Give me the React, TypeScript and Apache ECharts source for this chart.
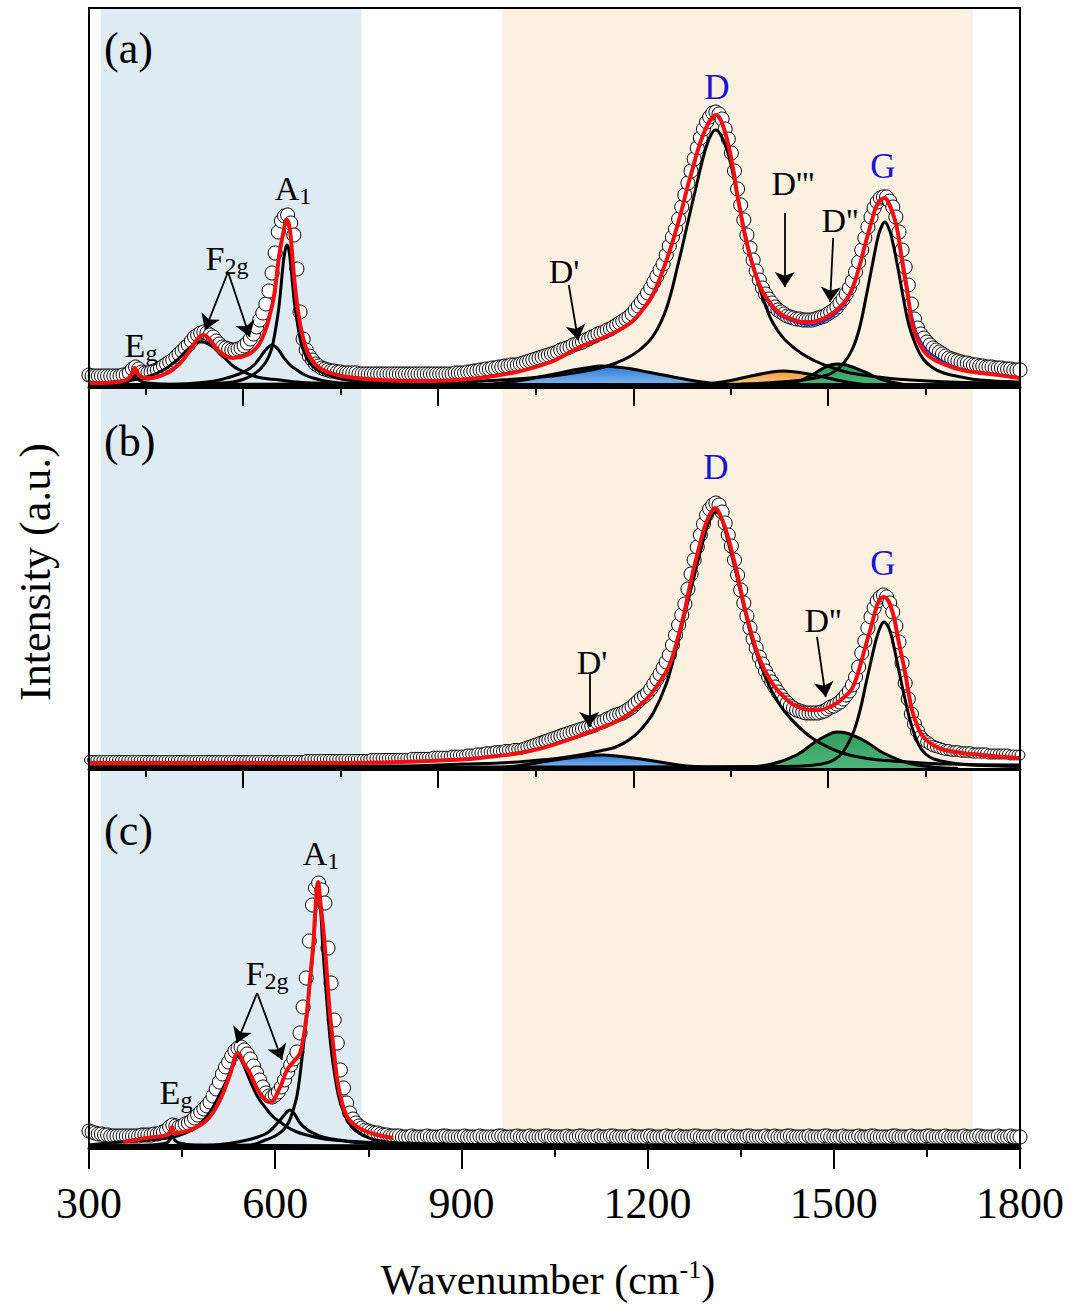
import React, { useEffect, useRef } from "react";
import * as echarts from "echarts";

// ---------- sampling grid of the measured spectra (cm-1) ----------
const specStart = 300;
const specStep = 5;
const specCount = 301;
const wavenumbers: number[] = Array.from({ length: specCount }, (_, i) => specStart + specStep * i);

// ---------- measured spectra (a.u.), one value per grid point ----------
const measuredA = [
  12,11,11,11,11,11,11,11,11,11,11,12,12,14,18,20,18,15,14,14,
  15,16,17,19,21,23,25,27,30,33,36,39,42,46,50,52,54,55,54,52,
  50,46,43,40,39,38,37,37,38,39,41,44,48,53,60,67,74,83,96,114,
  134,155,166,171,172,164,152,118,75,48,37,31,27,23,21,19,18,17,16,16,
  15,15,14,14,14,14,14,13,13,13,13,13,13,13,13,13,13,13,13,13,
  13,13,13,13,13,13,13,13,13,13,13,13,13,13,13,13,13,13,14,14,
  14,14,15,15,16,16,17,17,18,18,19,19,20,20,21,21,22,22,22,23,
  24,25,26,27,28,29,30,31,32,33,34,35,37,38,39,40,42,43,44,45,
  47,48,50,51,53,54,55,57,58,60,62,64,66,68,70,73,77,81,85,89,
  94,99,105,111,117,123,132,141,150,158,168,180,192,204,216,228,239,249,258,265,
  270,274,275,273,268,258,248,234,216,198,182,167,152,139,127,116,107,99,93,88,
  84,80,77,75,73,71,70,69,68,68,67,67,67,67,68,69,70,71,73,75,
  77,80,84,88,93,99,106,115,125,137,149,160,170,179,185,189,190,190,186,180,
  170,155,137,120,102,83,68,59,53,49,45,42,39,37,35,33,31,29,28,27,
  26,25,24,24,23,22,22,21,21,20,20,20,19,19,19,18,18,18,17,17,
  17,
];
const measuredB = [
  9,9,9,9,9,9,9,9,9,9,9,9,9,9,9,9,9,9,9,9,
  9,9,9,9,9,9,9,9,9,9,9,9,9,9,9,9,9,9,9,9,
  9,9,9,9,9,9,9,9,9,9,9,9,9,9,9,9,9,9,9,9,
  9,9,9,9,9,9,9,9,9,9,10,10,10,10,10,10,10,10,10,10,
  10,10,10,10,10,10,10,10,10,10,10,11,11,11,11,11,11,11,11,11,
  11,11,11,11,12,12,12,12,12,12,12,13,13,13,13,13,13,14,14,14,
  14,14,15,15,15,16,16,16,17,17,17,18,18,18,19,19,19,20,20,20,
  21,22,23,24,25,26,27,28,29,30,31,32,33,34,35,36,37,38,39,40,
  41,42,43,44,46,47,48,50,51,53,54,55,56,58,60,62,65,68,71,73,
  76,80,85,90,95,101,107,114,124,134,144,154,165,180,195,209,222,234,245,254,
  260,264,266,264,257,246,234,223,209,194,179,166,153,141,130,121,112,105,98,92,
  87,82,77,73,69,66,63,61,59,58,57,56,56,56,56,56,57,58,60,62,
  63,65,67,70,74,78,84,92,102,116,128,141,152,161,168,172,174,172,166,157,
  143,127,106,86,70,55,45,38,32,29,27,25,23,22,21,20,19,19,18,18,
  18,17,17,17,17,16,16,16,16,16,15,15,15,15,15,15,15,14,14,14,
  14,
];
const measuredC = [
  17,16,15,14,14,13,13,12,12,12,12,12,12,12,12,12,12,13,13,13,
  13,14,14,15,16,18,21,23,22,21,22,24,25,27,30,33,36,39,42,46,
  52,59,66,74,81,86,92,97,100,101,98,94,89,82,75,68,61,55,52,51,
  53,56,61,68,76,83,89,96,115,141,170,207,243,260,265,258,245,200,165,128,
  105,78,60,45,35,29,25,22,20,18,17,16,15,15,14,13,13,12,12,12,
  12,11,11,11,12,11,11,11,11,12,11,11,11,11,12,12,11,11,11,11,
  11,12,11,11,11,11,12,11,11,11,11,11,12,12,11,11,11,11,12,11,
  11,11,12,11,11,11,11,12,12,11,11,11,11,11,12,11,11,11,12,12,
  11,11,11,11,12,11,11,11,12,12,11,11,11,11,11,12,11,11,11,11,
  12,12,11,11,11,11,12,11,11,11,12,11,11,11,11,12,12,11,11,11,
  11,11,12,11,11,11,11,12,11,11,11,11,12,12,11,11,11,11,12,11,
  11,12,11,11,11,12,12,11,11,11,11,11,12,11,11,11,11,12,12,11,
  11,11,11,12,11,11,11,11,12,11,11,11,12,12,11,11,11,11,11,12,
  12,11,11,11,11,12,11,11,11,11,12,12,11,11,11,11,12,11,11,11,
  11,11,12,11,11,11,12,12,11,11,11,11,11,12,11,11,11,12,11,11,
  11,
];

// ---------- fitted envelopes [wavenumber, intensity] ----------
const fitA: [number, number][] = [
  [300,4],[340,4.5],[360,7],[368,12],[374,19],[378,14],[384,10],[398,9],[426,14],[447,24],
  [463,37],[476,49],[484,52],[495,47],[511,35],[532,29],[555,32],[571,40],[580,50],[587,62],
  [592,74],[597,87],[601,104],[604,120],[608,138],[613,154],[616,163],[619,167],[622,163],[625,150],
  [629,120],[632,100],[635,84],[639,67],[643,54],[649,40],[656,30],[666,22],[677,17],[695,13],
  [716,10],[769,7],[850,6],[930,9],[988,15],[1044,25],[1091,40],[1131,50],[1172,64],[1200,84],
  [1212,97],[1223,114],[1235,135],[1246,157],[1255,177],[1263,197],[1272,217],[1281,237],[1290,253],[1299,265],
  [1305,270],[1310,272],[1315,270],[1321,262],[1327,250],[1333,234],[1339,214],[1344,194],[1350,174],[1355,157],
  [1361,141],[1367,127],[1375,111],[1384,97],[1395,86],[1407,77],[1420,71],[1436,67],[1450,65],[1462,65],
  [1478,67],[1494,72],[1510,80],[1523,90],[1532,102],[1541,120],[1549,139],[1557,157],[1563,170],[1568,180],
  [1575,187],[1582,189],[1589,183],[1597,170],[1603,155],[1608,134],[1613,115],[1618,97],[1622,80],[1626,64],
  [1634,49],[1644,37],[1657,29],[1673,24],[1707,17],[1765,12],[1800,9],
];
// cumulative curve drawn in blue under the red fit (visible around D''/G in panel a)
const sumA: [number, number][] = [
  [1384,95],[1407,74],[1436,65],[1460,62],[1494,69],[1523,87],[1541,117],[1557,155],[1568,178],[1582,189],
  [1597,173],[1608,140],[1618,104],[1626,72],[1644,42],[1673,27],[1707,18],[1765,12],
];
const fitB: [number, number][] = [
  [300,6],[500,6],[700,6],[800,7],[880,9],[930,11],[1017,19],[1102,36],[1160,51],[1200,71],
  [1217,85],[1234,102],[1247,127],[1259,156],[1267,180],[1275,202],[1284,224],[1292,242],[1300,254],[1309,261],
  [1317,254],[1326,239],[1333,224],[1339,209],[1345,194],[1350,179],[1358,157],[1367,136],[1378,114],[1391,96],
  [1405,82],[1420,72],[1433,65],[1447,61],[1462,59],[1476,59],[1490,61],[1505,66],[1517,72],[1528,79],
  [1537,92],[1545,109],[1553,127],[1560,142],[1566,156],[1571,166],[1576,171],[1581,172],[1587,169],[1592,162],
  [1598,149],[1603,132],[1609,114],[1615,96],[1620,78],[1626,59],[1634,44],[1644,32],[1660,24],[1678,19],
  [1736,14],[1800,11],
];
const fitC: [number, number][] = [
  [355,6],[393,10],[426,13],[431,17],[434,21],[438,14],[442,15],[463,18],[490,28],[511,48],
  [527,73],[540,95],[551,83],[559,75],[575,55],[592,46],[608,61],[619,78],[632,88],[640,95],
  [646,112],[651,135],[656,168],[661,201],[665,240],[669,266],[673,245],[677,222],[680,201],[684,168],
  [688,135],[694,100],[700,68],[707,47],[716,31],[728,23],[741,18],[765,13],[790,10],
];

// ---------- fitted component bands [wavenumber, intensity] ----------
// panel (a)
const egA: [number, number][] = [[300,2],[330,3],[355,4],[365,6],[370,9],[374,12],[378,9],[383,6],[393,4],[420,3],[500,2.5],[700,2],[1100,2],[1800,2]];
const f2g1A: [number, number][] = [[300,3],[339,5],[370,7],[393,10],[410,14],[425,19],[442,27],[458,37],[468,42],[476,45],[484,45],[492,43],[500,40],[511,33],[522,27],[532,21],[543,17],[557,13],[571,10],[590,8],[608,7],[635,5],[661,4],[740,3],[900,2.5],[1300,2],[1800,2]];
const f2g2A: [number, number][] = [[300,2],[400,2.5],[450,3],[490,5],[510,7],[527,10],[542,13],[555,17],[566,22],[575,29],[583,36],[589,40],[595,42],[601,40],[607,36],[613,30],[624,22],[635,17],[648,12],[661,9],[680,6],[704,4],[760,3],[900,2.5],[1300,2],[1800,2]];
const a1A: [number, number][] = [[300,2],[400,2.5],[480,3],[532,5],[550,8],[564,12],[576,18],[584,24],[590,31],[595,40],[599,52],[603,67],[606,80],[609,98],[612,118],[615,133],[619,142],[622,137],[625,122],[628,103],[631,84],[635,67],[639,52],[643,41],[650,30],[656,24],[666,18],[677,14],[695,10],[716,7],[769,4],[850,3],[1000,2.5],[1400,2],[1800,2]];
const dA: [number, number][] = [[300,2],[500,2.5],[650,3],[800,3.5],[900,5],[962,7],[1010,9],[1059,12],[1100,16],[1130,20],[1149,24],[1170,30],[1189,38],[1210,52],[1230,78],[1250,125],[1265,165],[1280,205],[1292,235],[1302,252],[1310,257],[1318,252],[1328,237],[1338,212],[1348,180],[1358,150],[1367,127],[1380,100],[1392,78],[1402,64],[1420,48],[1447,34],[1470,26],[1494,20],[1520,15],[1558,11],[1600,8],[1687,5],[1800,4]];
const gA: [number, number][] = [[300,2],[800,2.5],[1100,2.5],[1350,3],[1413,5],[1450,7],[1478,10],[1500,15],[1516,24],[1530,38],[1541,58],[1552,90],[1563,125],[1572,152],[1578,162],[1582,165],[1587,161],[1593,150],[1603,120],[1612,89],[1621,62],[1632,42],[1644,28],[1660,19],[1677,14],[1705,10],[1735,7],[1800,5]];
const d1A: [number, number][] = [[850,0.5],[900,1],[950,3],[1000,7],[1050,13],[1080,17],[1100,19],[1125,21],[1150,20],[1175,18],[1200,15],[1250,9],[1300,4],[1350,1.5],[1400,0.5]];
const d3A: [number, number][] = [[1220,0.5],[1270,2],[1320,5],[1360,10],[1400,15],[1420,16],[1450,14],[1490,9],[1530,4],[1570,1.5],[1620,0.3]];
const d2A: [number, number][] = [[1400,1],[1440,5],[1470,14],[1490,21],[1505,23],[1520,22],[1550,15],[1580,7],[1620,2],[1660,0.5]];
// panel (b)
const dB: [number, number][] = [[300,2],[500,2.5],[650,3],[800,3],[900,5],[962,6],[1010,8],[1059,11],[1100,15],[1130,19],[1149,22],[1170,29],[1190,40],[1210,57],[1230,85],[1245,118],[1258,150],[1270,180],[1282,210],[1292,234],[1302,252],[1310,257],[1318,252],[1329,229],[1339,205],[1349,179],[1360,150],[1372,122],[1391,90],[1410,67],[1431,50],[1465,31],[1505,18],[1540,12],[1574,9],[1620,7],[1680,5],[1800,4]];
const gB: [number, number][] = [[300,2],[900,2],[1400,2.5],[1450,3],[1480,5],[1500,9],[1515,17],[1531,36],[1542,58],[1552,86],[1560,108],[1568,129],[1575,142],[1581,147],[1587,143],[1592,135],[1597,122],[1606,95],[1615,69],[1625,44],[1637,24],[1648,15],[1661,10],[1690,6],[1720,4],[1800,2.5]];
const d1B: [number, number][] = [[900,0.5],[950,1],[1000,4],[1050,9],[1100,13],[1125,14],[1150,13],[1200,9],[1250,4],[1300,1.5],[1350,0.3]];
const d2B: [number, number][] = [[1350,1],[1400,5],[1440,14],[1470,27],[1490,34],[1505,37],[1520,36],[1550,28],[1580,16],[1620,6],[1660,2],[1700,0.5]];
// panel (c)
const egC: [number, number][] = [[300,2],[400,3],[425,5],[430,8],[434,12],[438,8],[445,5],[470,3],[600,2.5],[900,2],[1800,2]];
const f2g1C: [number, number][] = [[300,3],[366,7],[410,9],[435,11],[455,15],[474,21],[488,30],[500,41],[512,55],[522,68],[531,82],[540,92],[549,83],[559,68],[567,57],[575,48],[586,39],[597,31],[608,26],[619,21],[635,16],[651,13],[670,10],[693,8],[741,6],[800,4],[1000,3],[1800,2]];
const f2g2C: [number, number][] = [[300,2],[420,2.5],[500,3],[530,5],[555,8],[572,11],[587,15],[598,21],[608,28],[616,34],[624,38],[631,34],[640,25],[650,19],[661,15],[676,11],[693,9],[740,5],[900,3],[1800,2]];
const a1C: [number, number][] = [[300,2],[450,2.5],[560,3],[584,8],[600,12],[613,18],[622,26],[629,38],[635,52],[640,73],[645,100],[651,133],[656,166],[661,198],[665,235],[669,263],[673,240],[677,198],[681,165],[685,133],[690,100],[696,73],[702,52],[709,38],[718,26],[729,18],[745,12],[761,8],[800,5],[1000,3],[1800,2]];

// ---------- arrows [x1, y1, x2, y2] in data units ----------
const arrowsA = [[524,115,487,57],[524,115,559,50],[1073,102,1088,47],[1421,174,1421,100],[1499,149,1494,85]];
const arrowsB = [[1106,96,1106,42],[1473,132,1487,72]];
const arrowsC = [[571,155,538,105],[571,155,611,88]];

// ---------- shaded spectral regions (cm-1) ----------
const shadeOxide = [319, 739];
const shadeCarbon = [966, 1724];

// ---------- axis ticks ----------
const bottomTicks = { min: 300, max: 1800, interval: 300 };
const upperMajorTicks = [548, 862, 1177, 1491];
const upperMinorTicks = [391, 705, 1020, 1334, 1648];

const SERIF = '"Liberation Serif", "Times New Roman", Times, serif';

const grad = (top: string, bottom: string) =>
  new echarts.graphic.LinearGradient(0, 0, 0, 1, [
    { offset: 0, color: top },
    { offset: 1, color: bottom },
  ]);

export default function App() {
  const ref = useRef<HTMLDivElement>(null);

  useEffect(() => {
    if (!ref.current) return;
    const chart = echarts.init(ref.current, null, { renderer: "svg" });

    const grids = [
      { left: 89, right: 50, top: 8, height: 379 },
      { left: 89, right: 50, top: 387, height: 382 },
      { left: 89, right: 50, top: 769, height: 379 },
    ];
    const yMax = [379, 382, 379];

    const noSplit = { show: false };
    const xAxes: any[] = [];
    const mainX: number[] = [];
    [0, 1].forEach((g) => {
      mainX.push(xAxes.length);
      xAxes.push({
        type: "value", gridIndex: g, min: 300, max: 1800, position: "bottom", z: 10,
        axisLine: { show: true, onZero: false, lineStyle: { color: "#000", width: 3 } },
        axisTick: { show: true, customValues: upperMajorTicks, length: 19, lineStyle: { color: "#000", width: 2 } },
        axisLabel: { show: false }, splitLine: noSplit,
      });
      xAxes.push({
        type: "value", gridIndex: g, min: 300, max: 1800, position: "bottom", z: 10,
        axisLine: { show: false, onZero: false },
        axisTick: { show: true, customValues: upperMinorTicks, length: 8, lineStyle: { color: "#000", width: 2 } },
        axisLabel: { show: false }, splitLine: noSplit,
      });
    });
    xAxes.push({
      type: "value", gridIndex: 0, min: 300, max: 1800, position: "top", z: 10,
      axisLine: { show: true, onZero: false, lineStyle: { color: "#000", width: 2 } },
      axisTick: { show: false }, axisLabel: { show: false }, splitLine: noSplit,
    });
    mainX.push(xAxes.length);
    xAxes.push({
      type: "value", gridIndex: 2, min: bottomTicks.min, max: bottomTicks.max, interval: bottomTicks.interval,
      position: "bottom", z: 10,
      axisLine: { show: true, onZero: false, lineStyle: { color: "#000", width: 3 } },
      axisTick: { show: true, length: 21, lineStyle: { color: "#000", width: 2 } },
      minorTick: { show: true, splitNumber: 2, length: 9, lineStyle: { color: "#000", width: 2 } },
      axisLabel: { show: true, fontSize: 44, fontFamily: SERIF, color: "#000", margin: 33, formatter: (v: number) => String(v) },
      splitLine: noSplit, minorSplitLine: noSplit,
    });

    const yAxes: any[] = [];
    const mainY: number[] = [];
    [0, 1, 2].forEach((g) => {
      mainY.push(yAxes.length);
      ["left", "right"].forEach((pos) =>
        yAxes.push({
          type: "value", gridIndex: g, min: 0, max: yMax[g], position: pos, z: 10,
          axisLine: { show: true, onZero: false, lineStyle: { color: "#000", width: 2 } },
          axisTick: { show: false }, axisLabel: { show: false }, splitLine: noSplit,
        })
      );
    });

    const series: any[] = [];
    const base = (p: number) => ({ xAxisIndex: mainX[p], yAxisIndex: mainY[p], silent: true, animation: false });

    const shade = (p: number) => ({
      ...base(p), type: "line", data: [], z: 0,
      markArea: {
        silent: true,
        data: [
          [{ xAxis: shadeOxide[0], itemStyle: { color: "#deebf3" } }, { xAxis: shadeOxide[1] }],
          [{ xAxis: shadeCarbon[0], itemStyle: { color: "#fcf0e0" } }, { xAxis: shadeCarbon[1] }],
        ],
      },
    });
    const band = (p: number, pts: [number, number][], fill?: any) => ({
      ...base(p), type: "line", data: pts, smooth: 0.4, showSymbol: false, z: fill ? 2 : 4,
      lineStyle: { color: "#000", width: 3 },
      ...(fill ? { areaStyle: { color: fill, opacity: 1 } } : {}),
    });
    const measured = (p: number, vals: number[], size: any) => ({
      ...base(p), type: "scatter", z: 3, symbol: "circle", symbolSize: size, progressive: 0,
      data: wavenumbers.map((w, i) => [w, vals[i]]),
      itemStyle: { color: "#fff", borderColor: "#000", borderWidth: 1, opacity: 1 },
    });
    const fit = (p: number, pts: [number, number][]) => ({
      ...base(p), type: "line", data: pts, smooth: 0.4, showSymbol: false, z: 5,
      lineStyle: { color: "#f01010", width: 4 },
    });
    const arrows = (p: number, list: number[][]) => ({
      ...base(p), type: "line", data: [], z: 6,
      markLine: {
        silent: true, symbol: ["none", "arrow"], symbolSize: 15, animation: false,
        label: { show: false }, emphasis: { disabled: true },
        lineStyle: { color: "#000", width: 1.8, type: "solid" },
        data: list.map(([x1, y1, x2, y2]) => [{ coord: [x1, y1] }, { coord: [x2, y2] }]),
      },
    });

    const blueFill = grad("#2a78d6", "#8cc0f2");
    const orangeFill = grad("#f59a35", "#fcd39c");
    const greenFill = grad("#2f9c5c", "#4fb57c");

    // panel a
    series.push(shade(0));
    series.push(band(0, d1A, blueFill), band(0, d3A, orangeFill), band(0, d2A, greenFill));
    series.push(measured(0, measuredA, 14));
    series.push(band(0, egA), band(0, f2g1A), band(0, f2g2A), band(0, a1A), band(0, dA), band(0, gA));
    series.push({
      ...base(0), type: "line", data: sumA, smooth: 0.4, showSymbol: false, z: 4.5,
      lineStyle: { color: "#2222cc", width: 1.5 },
    });
    series.push(fit(0, fitA));
    series.push(arrows(0, arrowsA));
    // panel b (the flat baseline points are drawn smaller, as in the figure)
    series.push(shade(1));
    series.push(band(1, d1B, blueFill), band(1, d2B, greenFill));
    series.push(measured(1, measuredB, (v: number[]) => Math.min(14, 7 + v[1] * 0.2)));
    series.push(band(1, dB), band(1, gB));
    series.push(fit(1, fitB));
    series.push(arrows(1, arrowsB));
    // panel c
    series.push(shade(2));
    series.push(measured(2, measuredC, 14));
    series.push(band(2, egC), band(2, f2g1C), band(2, f2g2C), band(2, a1C));
    series.push(fit(2, fitC));
    series.push(arrows(2, arrowsC));

    const txt = (x: number, y: number, text: string, size: number, color = "#000", align = "center") => ({
      type: "text", x, y, z: 100, silent: true,
      style: { text, fill: color, font: `${size}px ${SERIF}`, align, verticalAlign: "middle" },
    });
    const subTxt = (x: number, y: number, main: string, sub: string, size = 34) => ({
      type: "text", x, y, z: 100, silent: true,
      style: {
        text: `{m|${main}}{s|${sub}}`, align: "center", verticalAlign: "middle",
        rich: {
          m: { fontSize: size, fontFamily: SERIF, lineHeight: size + 6, fill: "#000" },
          s: { fontSize: Math.round(size * 0.7), fontFamily: SERIF, lineHeight: 23, verticalAlign: "bottom", fill: "#000" },
        },
      },
    });
    const BLUE = "#1414d2";

    const graphic: any[] = [
      txt(104, 48, "(a)", 44, "#000", "left"),
      txt(104, 441, "(b)", 44, "#000", "left"),
      txt(104, 830, "(c)", 44, "#000", "left"),
      subTxt(293, 188, "A", "1"),
      subTxt(227, 258, "F", "2g"),
      subTxt(141, 345, "E", "g"),
      txt(717, 87, "D", 35, BLUE),
      txt(883, 166, "G", 35, BLUE),
      txt(564, 271, "D'", 34),
      txt(793, 183, "D'''", 34),
      txt(840, 220, "D''", 34),
      txt(716, 467, "D", 35, BLUE),
      txt(883, 563, "G", 35, BLUE),
      txt(592, 662, "D'", 34),
      txt(823, 620, "D''", 34),
      subTxt(321, 853, "A", "1"),
      subTxt(267, 973, "F", "2g"),
      subTxt(176, 1092, "E", "g"),
      {
        type: "text", x: 548, y: 1280, z: 100, silent: true,
        style: {
          text: "{n|Wavenumber (cm}{s|-1}{n|)}", align: "center", verticalAlign: "middle",
          rich: {
            n: { fontSize: 42, fontFamily: SERIF, lineHeight: 48, fill: "#000" },
            s: { fontSize: 26, fontFamily: SERIF, lineHeight: 22, verticalAlign: "top", fill: "#000" },
          },
        },
      },
      {
        type: "text", x: 35, y: 572, rotation: Math.PI / 2, z: 100, silent: true,
        style: { text: "Intensity (a.u.)", fill: "#000", font: `44px ${SERIF}`, align: "center", verticalAlign: "middle" },
      },
    ];

    chart.setOption({
      animation: false,
      backgroundColor: "#fff",
      grid: grids,
      xAxis: xAxes,
      yAxis: yAxes,
      series,
      graphic,
    });

    return () => chart.dispose();
  }, []);

  return <div ref={ref} style={{ position: "fixed", left: 0, top: 0, width: 1070, height: 1306 }} />;
}
